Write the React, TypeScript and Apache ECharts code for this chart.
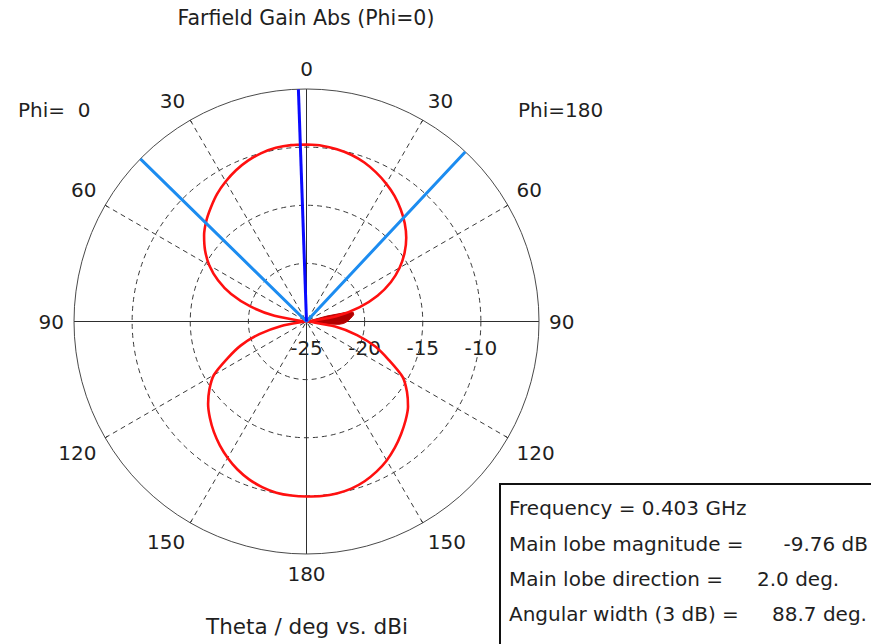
import React, { useEffect, useRef } from 'react';
import * as echarts from 'echarts';

// Sample angles (theta, deg)
const thetaTop = [0, 5, 10, 15, 20, 25, 30, 35, 40, 45, 50, 55, 60, 65, 70, 75, 80, 85, 90];
const thetaBottom = [90, 95, 100, 105, 110, 115, 120, 125, 130, 135, 140, 145, 150, 155, 160, 165, 170, 175, 180];

// Gain (dBi)
const gainTopPhi180 = [-9.78, -9.82, -9.95, -10.15, -10.45, -10.85, -11.3, -11.8, -12.4, -13.05, -13.8, -14.7, -15.75, -17.0, -18.5, -20.3, -22.4, -24.8, -25];
const gainTopPhi0 = [-9.78, -9.77, -9.83, -10.0, -10.28, -10.65, -11.1, -11.6, -12.2, -12.8, -13.5, -14.35, -15.35, -16.6, -18.1, -20.0, -22.2, -24.6, -25];
const gainBottomPhi180 = [-25, -24.7, -22.5, -20.5, -18.7, -17.2, -15.45, -14.45, -13.6, -12.95, -12.35, -11.75, -11.2, -10.75, -10.38, -10.12, -9.98, -9.93, -9.95];
const gainBottomPhi0 = [-25, -24.8, -22.8, -20.8, -19.0, -17.5, -15.8, -14.8, -13.95, -13.25, -12.6, -12.0, -11.45, -10.95, -10.55, -10.25, -10.05, -9.97, -9.95];

// small side-lobe clutter near the null (Phi=180 side)
const blobTheta = [72, 75, 77, 79, 82, 86, 90, 93, 95, 97, 100];
const blobGain = [-25, -23.2, -21.6, -20.9, -20.9, -21.2, -21.5, -21.8, -22.2, -23.2, -25];

// markers
const mainLobeDirPhi0 = 2.0;
const beamEdgePhi0 = 45.6;
const beamEdgePhi180 = 43.1;

const radiusMin = -25;
const radiusMax = -5;
const radiusStep = 5;
const angleStep = 30;

const titleText = 'Farfield Gain Abs (Phi=0)';
const leftPhiText = 'Phi=  0';
const rightPhiText = 'Phi=180';
const axisTitleText = 'Theta / deg vs. dBi';
const infoLabels = ['Frequency = 0.403 GHz', 'Main lobe magnitude =', 'Main lobe direction =', 'Angular width (3 dB) ='];
const infoValues = ['', '-9.76 dB', '2.0 deg.', '88.7 deg.'];

const FONT = 'DejaVu Sans';
const TXT = '#1f1f1f';

const toAngle180 = (t: number) => t;
const toAngle0 = (t: number) => 360 - t;

export default function App() {
  const ref = useRef<HTMLDivElement>(null);
  useEffect(() => {
    if (!ref.current) return;
    const chart = echarts.init(ref.current, undefined, { renderer: 'svg' });

    const pattern: number[][] = [];
    thetaTop.forEach((t, i) => pattern.push([gainTopPhi180[i], toAngle180(t)]));
    thetaBottom.forEach((t, i) => { if (i > 0) pattern.push([gainBottomPhi180[i], toAngle180(t)]); });
    for (let i = thetaBottom.length - 1; i >= 0; i--) pattern.push([gainBottomPhi0[i], toAngle0(thetaBottom[i])]);
    for (let i = thetaTop.length - 2; i >= 0; i--) pattern.push([gainTopPhi0[i], toAngle0(thetaTop[i])]);

    const blob = blobTheta.map((t, i) => [blobGain[i], toAngle180(t)]);

    const center = [306.5, 321.5];
    const radius = 232.5;

    const infoY = [508, 544, 579, 614];
    const valueX = [0, 868, 757, 772];
    const valueAlign = ['left', 'right', 'left', 'left'];

    const txt = (text: string, x: number, y: number, align: string, size: number) => ({
      type: 'text',
      style: { text, x, y, align, verticalAlign: 'middle', font: `${size}px "${FONT}"`, fill: TXT },
    });

    const option: any = {
      animation: false,
      polar: [
        { center, radius },
        { center, radius },
      ],
      angleAxis: [
        {
          polarIndex: 0,
          type: 'value',
          min: 0,
          max: 360,
          interval: angleStep,
          startAngle: 90,
          clockwise: true,
          axisLine: { show: true, lineStyle: { color: '#4a4a4a', width: 1 } },
          axisTick: { show: true, length: 3, inside: true, lineStyle: { color: '#222' } },
          axisLabel: {
            show: true,
            margin: 10,
            fontFamily: FONT,
            fontSize: 20,
            color: TXT,
            formatter: (v: number) => String(v <= 180 ? v : 360 - v),
          },
          splitLine: { show: true, lineStyle: { color: '#3a3a3a', width: 1, type: [5, 4] } },
        },
        {
          polarIndex: 1,
          type: 'value',
          min: 0,
          max: 360,
          interval: 90,
          startAngle: 0,
          clockwise: true,
          axisLine: { show: false },
          axisTick: { show: false },
          axisLabel: { show: false },
          splitLine: { show: true, lineStyle: { color: '#2e2e2e', width: 1, type: 'solid' } },
        },
      ],
      radiusAxis: [
        {
          polarIndex: 0,
          type: 'value',
          min: radiusMin,
          max: radiusMax,
          interval: radiusStep,
          axisLine: { show: false },
          axisTick: { show: false },
          axisLabel: { show: false },
          splitLine: { show: true, lineStyle: { color: ['#3a3a3a', '#3a3a3a', '#3a3a3a', '#3a3a3a', 'transparent'], width: 1, type: [5, 4] } },
        },
        {
          polarIndex: 1,
          type: 'value',
          min: radiusMin,
          max: radiusMax,
          interval: radiusStep,
          axisLine: { show: false },
          axisTick: { show: false },
          splitLine: { show: false },
          axisLabel: {
            show: true,
            margin: -36,
            fontFamily: FONT,
            fontSize: 20,
            color: TXT,
            formatter: (v: number) => (v === radiusMax ? '' : String(v)),
          },
        },
      ],
      series: [
        {
          type: 'line',
          coordinateSystem: 'polar',
          polarIndex: 0,
          data: blob,
          symbol: 'none',
          lineStyle: { color: '#c00000', width: 1 },
          areaStyle: { color: '#b00000', origin: 'start', opacity: 1 },
          z: 3,
        },
        {
          type: 'line',
          coordinateSystem: 'polar',
          polarIndex: 0,
          data: pattern,
          symbol: 'none',
          smooth: 0.25,
          lineStyle: { color: '#ff1010', width: 2.6 },
          z: 4,
        },
        {
          type: 'line',
          coordinateSystem: 'polar',
          polarIndex: 0,
          data: [
            [radiusMax, toAngle0(beamEdgePhi0)],
            [radiusMin, toAngle0(beamEdgePhi0)],
            [radiusMin, toAngle180(beamEdgePhi180)],
            [radiusMax, toAngle180(beamEdgePhi180)],
          ],
          symbol: 'none',
          lineStyle: { color: '#1c8cf0', width: 3 },
          z: 5,
        },
        {
          type: 'line',
          coordinateSystem: 'polar',
          polarIndex: 0,
          data: [
            [radiusMin, toAngle0(mainLobeDirPhi0)],
            [radiusMax, toAngle0(mainLobeDirPhi0)],
          ],
          symbol: 'none',
          lineStyle: { color: '#0a0aff', width: 3 },
          z: 6,
        },
      ],
      graphic: [
        txt(titleText, 306, 18, 'center', 20.5),
        txt(leftPhiText, 18, 110, 'left', 20),
        txt(rightPhiText, 518, 110, 'left', 20),
        txt(axisTitleText, 307, 626, 'center', 21.5),
        { type: 'rect', shape: { x: 500, y: 484, width: 380, height: 170 }, style: { fill: '#fff', stroke: '#111', lineWidth: 2 } },
        ...infoLabels.map((t, i) => txt(t, 509, infoY[i], 'left', 20)),
        ...infoValues.map((t, i) => (t ? txt(t, valueX[i], infoY[i], valueAlign[i], 20) : null)).filter((x) => x),
      ],
    };
    chart.setOption(option);
    return () => chart.dispose();
  }, []);
  return <div ref={ref} style={{ position: 'fixed', left: 0, top: 0, width: 871, height: 644, background: '#fff' }} />;
}
